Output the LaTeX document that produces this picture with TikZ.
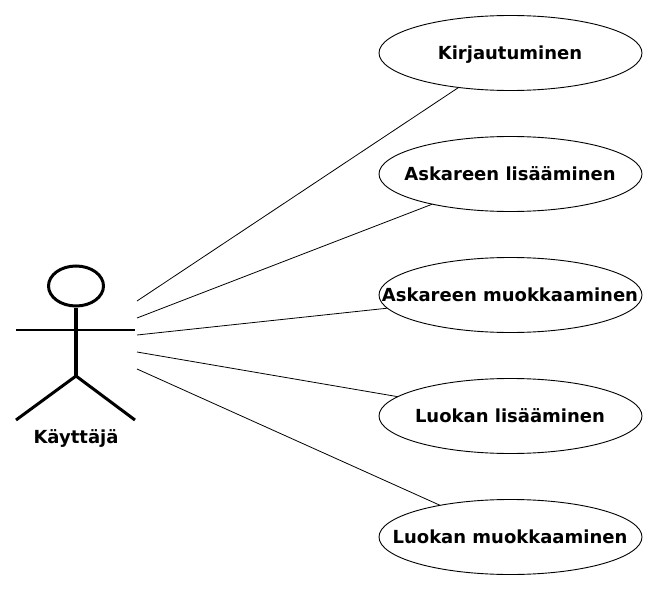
\documentclass[tikz,border=0pt]{standalone}
\usepackage{fontspec}
\setmainfont{DejaVu Sans}
\usetikzlibrary{shapes.geometric}
\begin{document}
\begin{tikzpicture}[x=1pt,y=-1pt,
  usecase/.style={ellipse,draw=black,line width=0.9pt,minimum width=263pt,minimum height=75pt,inner sep=0pt,outer sep=0pt},
  lbl/.style={font=\bfseries\fontsize{18pt}{22pt}\selectfont,inner sep=0pt,anchor=base},
  conn/.style={line width=0.8pt,draw=black},
  limb/.style={line width=3pt,draw=black},
  bodyline/.style={line width=4pt,draw=black},
  armline/.style={line width=2pt,draw=black}]
\useasboundingbox (0,0) rectangle (657,589);
\node[usecase] (u1) at (510.5,53) {};
\node[usecase] (u2) at (510.5,174) {};
\node[usecase] (u3) at (510.5,295) {};
\node[usecase] (u4) at (510.5,416) {};
\node[usecase] (u5) at (510.5,537) {};
\node[lbl] (t1) at (510,59) {Kirjautuminen};
\node[lbl] (t2) at (510,180) {Askareen lisääminen};
\node[lbl] (t3) at (510,301) {Askareen muokkaaminen};
\node[lbl] (t4) at (510,422) {Luokan lisääminen};
\node[lbl] (t5) at (510,543) {Luokan muokkaaminen};
\coordinate (a1) at (137,301);
\coordinate (a2) at (137,318);
\coordinate (a3) at (137,335);
\coordinate (a4) at (137,352);
\coordinate (a5) at (137,369);
\draw[conn] (a1) -- (u1);
\draw[conn] (a2) -- (u2);
\draw[conn] (a3) -- (u3);
\draw[conn] (a4) -- (u4);
\draw[conn] (a5) -- (u5);
\node[ellipse,draw=black,line width=3pt,minimum width=55pt,minimum height=40pt,inner sep=0pt] (head) at (76,286) {};
\coordinate (hip) at (76,376);
\coordinate (ll) at (16,420);
\coordinate (rl) at (135,420);
\coordinate (al) at (16,330);
\coordinate (ar) at (135,330);
\draw[bodyline] (head.south) -- (hip);
\draw[armline] (al) -- (ar);
\draw[limb] (ll) -- (hip) -- (rl);
\node[lbl] (actor) at (76,443) {Käyttäjä};
\end{tikzpicture}
\end{document}
